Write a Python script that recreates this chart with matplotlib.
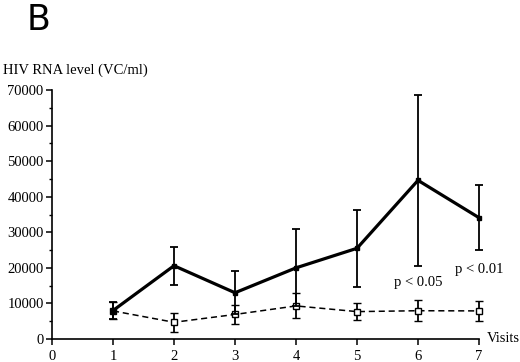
import matplotlib
matplotlib.use("Agg")
import matplotlib.pyplot as plt
from matplotlib.ticker import MultipleLocator

visits = [1, 2, 3, 4, 5, 6, 7]
treated_mean = [8000, 20600, 13000, 20000, 25500, 44600, 34100]
treated_err = [2400, 5400, 6000, 10800, 10800, 24000, 9100]
control_mean = [7900, 4700, 6900, 9300, 7700, 7950, 7900]
control_err = [2400, 2600, 2700, 3500, 2400, 2900, 2900]
xticks = [0, 1, 2, 3, 4, 5, 6, 7]
yticks = [0, 10000, 20000, 30000, 40000, 50000, 60000, 70000]

serif = ["Liberation Serif", "DejaVu Serif"]

fig = plt.figure(figsize=(5.2, 3.62), dpi=100)
ax = fig.add_axes([52/520, 23/362, (479-52)/520, (339-90)/362])

c = ax.errorbar(visits, control_mean, yerr=control_err, color="black", lw=1.1,
                ls=(0, (4, 2.5)), marker="s", ms=4.5, mfc="white", mec="black", mew=1.0,
                ecolor="black", elinewidth=1.3, capsize=3, capthick=1.3, zorder=3)
t = ax.errorbar(visits, treated_mean, yerr=treated_err, color="black", lw=2.3,
                marker="s", ms=3.5, mfc="black", mec="black",
                ecolor="black", elinewidth=1.3, capsize=3, capthick=1.3, zorder=4)
for eb in (c, t):
    for art in eb.get_children():
        art.set_clip_on(False)

ax.set_xlim(0, 7)
ax.set_ylim(0, 70000)
ax.set_xticks(xticks)
ax.set_yticks(yticks)
ax.yaxis.set_minor_locator(MultipleLocator(5000))
ax.spines["top"].set_visible(False)
ax.spines["right"].set_visible(False)
ax.spines["left"].set_linewidth(1.2)
ax.spines["bottom"].set_linewidth(1.2)
ax.tick_params(axis="both", which="major", direction="out", length=4, width=1.1,
               labelsize=10.5, pad=2)
ax.tick_params(axis="y", which="minor", direction="out", length=2.5, width=1.0)
ax.tick_params(axis="x", pad=4)
for lab in ax.get_xticklabels() + ax.get_yticklabels():
    lab.set_fontfamily(serif)

ax.text(1.018, 0, "Visits", transform=ax.transAxes, ha="left", va="center",
        fontsize=10.5, family=serif)
ax.text(6.0, 16000, "p < 0.05", ha="center", va="center", fontsize=10.5, family=serif)
ax.text(7.0, 19400, "p < 0.01", ha="center", va="center", fontsize=10.5, family=serif)

fig.text(3/520, 1 - 70/362, "HIV RNA level (VC/ml)", ha="left", va="center",
         fontsize=10.5, family=serif)
fig.text(27/520, 1 - 20/362, "B", ha="left", va="center", fontsize=25,
         family="DejaVu Sans")

fig.savefig("out.png", dpi=100)
